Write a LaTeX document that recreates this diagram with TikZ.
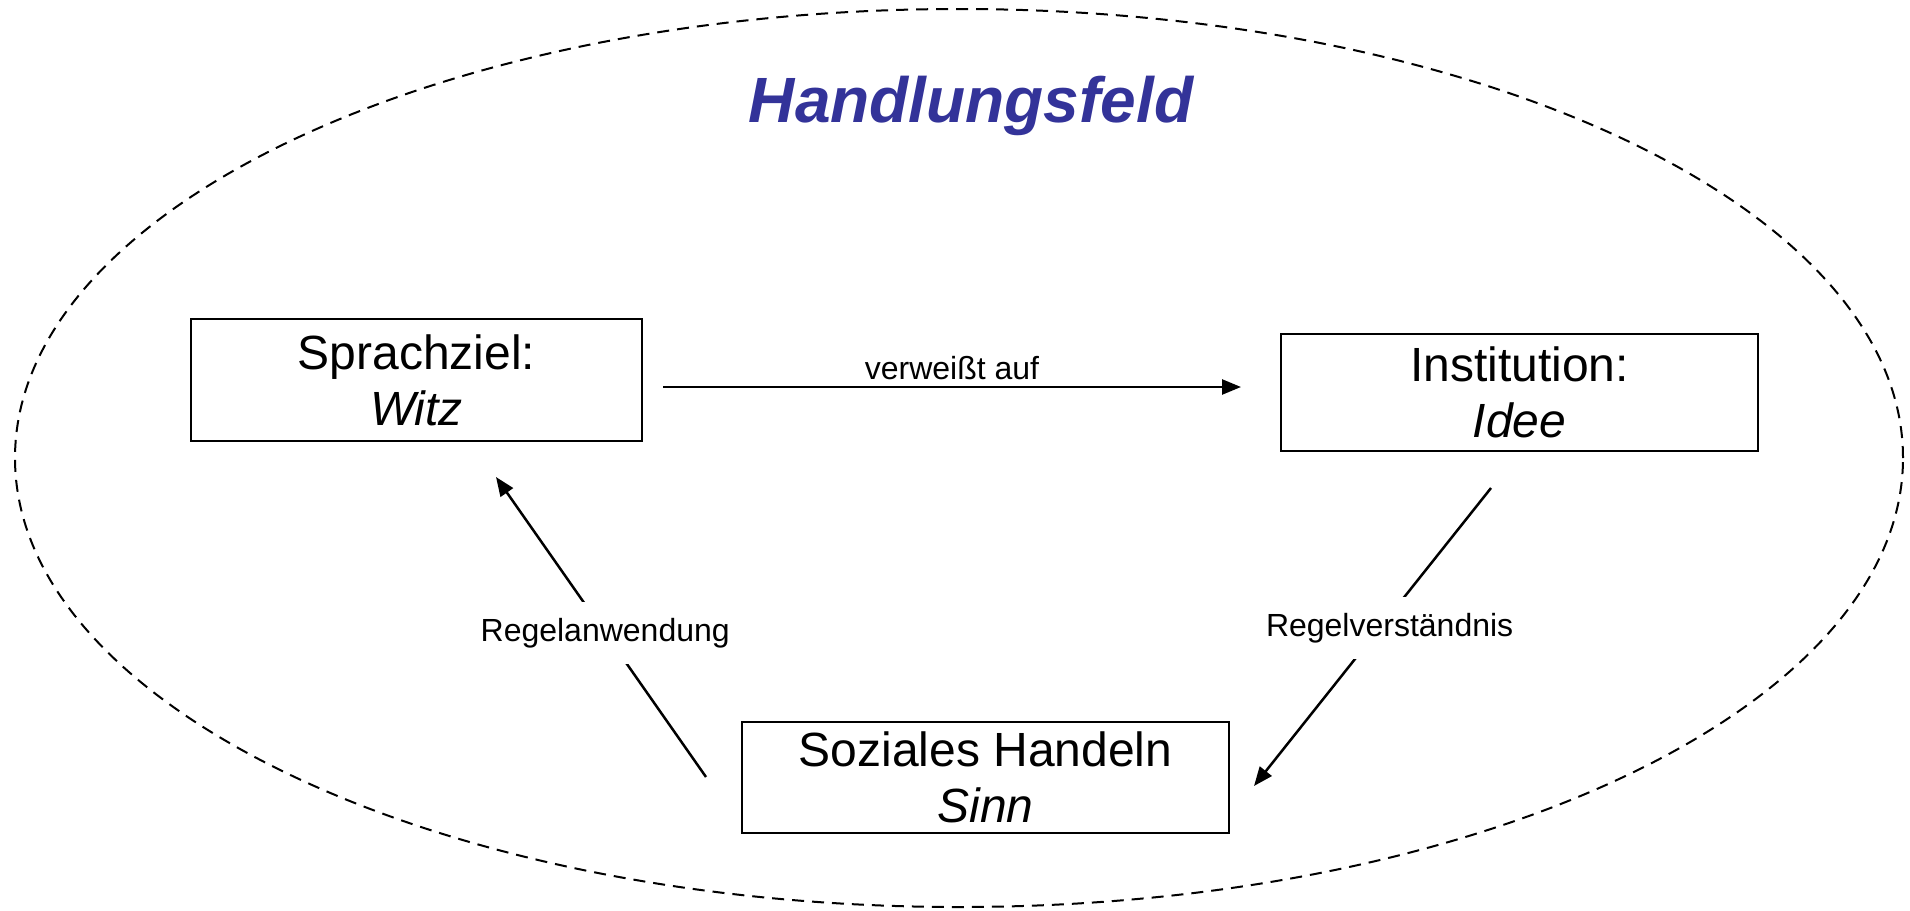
\documentclass[tikz,border=0pt]{standalone}
\usepackage{fontspec}
\setmainfont{Liberation Sans}
\usetikzlibrary{arrows.meta}
\definecolor{titleblue}{HTML}{333399}
\tikzset{
  boxnode/.style={draw=black, line width=2.5pt, inner sep=0pt, align=center,
    font=\fontsize{48}{56}\selectfont},
  conn/.style={line width=2.5pt, -{Triangle[length=19pt,width=15pt]}},
  lbl/.style={fill=white, inner xsep=4pt, inner ysep=16pt, font=\fontsize{32}{36}\selectfont},
  field/.style={dashed, dash pattern=on 12pt off 8pt, line width=2pt}
}
\begin{document}
\begin{tikzpicture}[x=1pt,y=-1pt]
\useasboundingbox (0,0) rectangle (1910,910);
\draw[field] (959,458) ellipse [x radius=944pt, y radius=449pt];
\node[font=\fontsize{64}{70}\selectfont\bfseries\itshape, text=titleblue] (title) at (971,106) {Handlungsfeld};
\node[boxnode, minimum width=451pt, minimum height=122pt] (spr) at (416.5,380) {Sprachziel:\\\textit{Witz}};
\node[boxnode, minimum width=477pt, minimum height=117pt] (inst) at (1519.5,392.5) {Institution:\\\textit{Idee}};
\node[boxnode, minimum width=487pt, minimum height=111pt] (soz) at (985.5,777.5) {Soziales Handeln\\\textit{Sinn}};
\coordinate (a1s) at (663,387);
\coordinate (a1e) at (1241,387);
\coordinate (a2s) at (706,777);
\coordinate (a2e) at (496,477);
\coordinate (a3s) at (1491,488);
\coordinate (a3e) at (1254,786);
\draw[conn] (a1s) -- node[above=3pt, font=\fontsize{32}{36}\selectfont] (l1) {verweißt auf} (a1e);
\draw[conn] (a2s) -- node[lbl, pos=0.48] (l2) {Regelanwendung} (a2e);
\draw[conn] (a3s) -- node[lbl, pos=0.47, xshift=10pt] (l3) {Regelverständnis} (a3e);
\end{tikzpicture}
\end{document}
